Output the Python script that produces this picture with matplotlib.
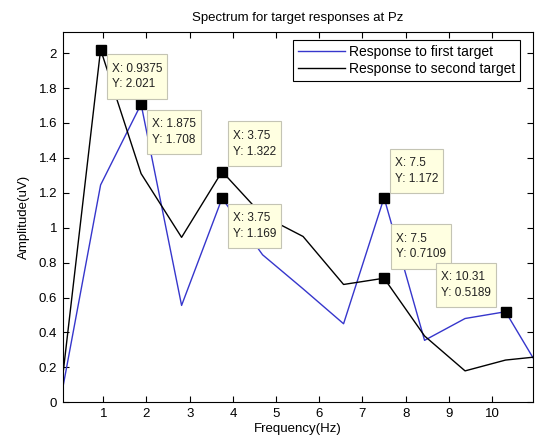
import matplotlib
matplotlib.use("Agg")
import matplotlib.pyplot as plt
from matplotlib.path import Path

plt.rcParams['font.family'] = ['Liberation Sans', 'DejaVu Sans']

freq = [0, 0.9375, 1.875, 2.8125, 3.75, 4.6875, 5.625, 6.5625, 7.5, 8.4375, 9.375, 10.3125, 11.25]
first_target = [0.0, 1.245, 1.708, 0.555, 1.169, 0.845, 0.65, 0.45, 1.172, 0.355, 0.48, 0.5189, 0.13]
second_target = [0.02, 2.021, 1.31, 0.945, 1.322, 1.07, 0.95, 0.675, 0.7109, 0.38, 0.18, 0.242, 0.266]

y_ticks = [0, 0.2, 0.4, 0.6, 0.8, 1, 1.2, 1.4, 1.6, 1.8, 2]
y_ticklabels = ['0', '0.2', '0.4', '0.6', '0.8', '1', '1.2', '1.4', '1.6', '1.8', '2']
x_ticks = [1, 2, 3, 4, 5, 6, 7, 8, 9, 10]


def tip_box(x0, y0, width, height, mutation_size):
    # datatip frame: more room above/below the text than at the sides
    px, py = 0.42 * mutation_size, 0.72 * mutation_size
    l, r, b, t = x0 - px, x0 + width + px, y0 - py, y0 + height + py
    return Path([(l, b), (r, b), (r, t), (l, t), (l, b)], closed=True)


fig = plt.figure(figsize=(5.48, 4.42), dpi=100)
ax = fig.add_axes([0.1144, 0.0898, 0.8576, 0.8373])

blue = '#3636cc'
ax.plot(freq, first_target, color=blue, lw=1.0, label='Response to first target')
ax.plot(freq, second_target, color='black', lw=1.0, label='Response to second target')

ax.set_xlim(0.06, 10.94)
ax.set_ylim(0, 2.12)
ax.set_xticks(x_ticks)
ax.set_yticks(y_ticks)
ax.set_yticklabels(y_ticklabels)
ax.tick_params(direction='in', top=True, right=True, labelsize=9.5, length=4, width=0.8, pad=4)
for s in ax.spines.values():
    s.set_linewidth(0.8)

ax.set_title('Spectrum for target responses at Pz', fontsize=9.5, pad=8)
ax.set_xlabel('Frequency(Hz)', fontsize=9.5, labelpad=2)
ax.set_ylabel('Amplitude(uV)', fontsize=9.5, labelpad=6)

# data tips: (series, index, dx, dy, ha, va) offsets in pixels from the marker
tips = [
    (second_target, 1, 11, -13, 'left', 'top'),
    (first_target, 2, 11, -14, 'left', 'top'),
    (second_target, 4, 11, 14, 'left', 'bottom'),
    (first_target, 4, 11, -14, 'left', 'top'),
    (first_target, 8, 11, 13, 'left', 'bottom'),
    (second_target, 8, 12, 18, 'left', 'bottom'),
    (first_target, 11, -15, 13, 'right', 'bottom'),
]
for series, i, dx, dy, ha, va in tips:
    x, y = freq[i], series[i]
    ax.plot(x, y, 's', color='black', ms=6.5, zorder=5)
    ax.annotate(f'X: {x:.4g}\nY: {y:.4g}', (x, y), xytext=(dx, dy),
                textcoords='offset pixels', ha=ha, va=va, multialignment='left',
                fontsize=8.5, linespacing=1.4, color='#202020', zorder=6,
                bbox=dict(boxstyle=tip_box, fc='#ffffe1', ec='#c4c4b4', lw=0.8))

leg = ax.legend(loc='upper right', bbox_to_anchor=(520 / 548, 1 - 40 / 442),
                bbox_transform=fig.transFigure, fontsize=10, fancybox=False,
                edgecolor='black', framealpha=1, handlelength=3.4,
                borderpad=0.35, labelspacing=0.25, handletextpad=0.3, borderaxespad=0)
leg.get_frame().set_linewidth(0.8)

fig.savefig('out.png', dpi=100)
